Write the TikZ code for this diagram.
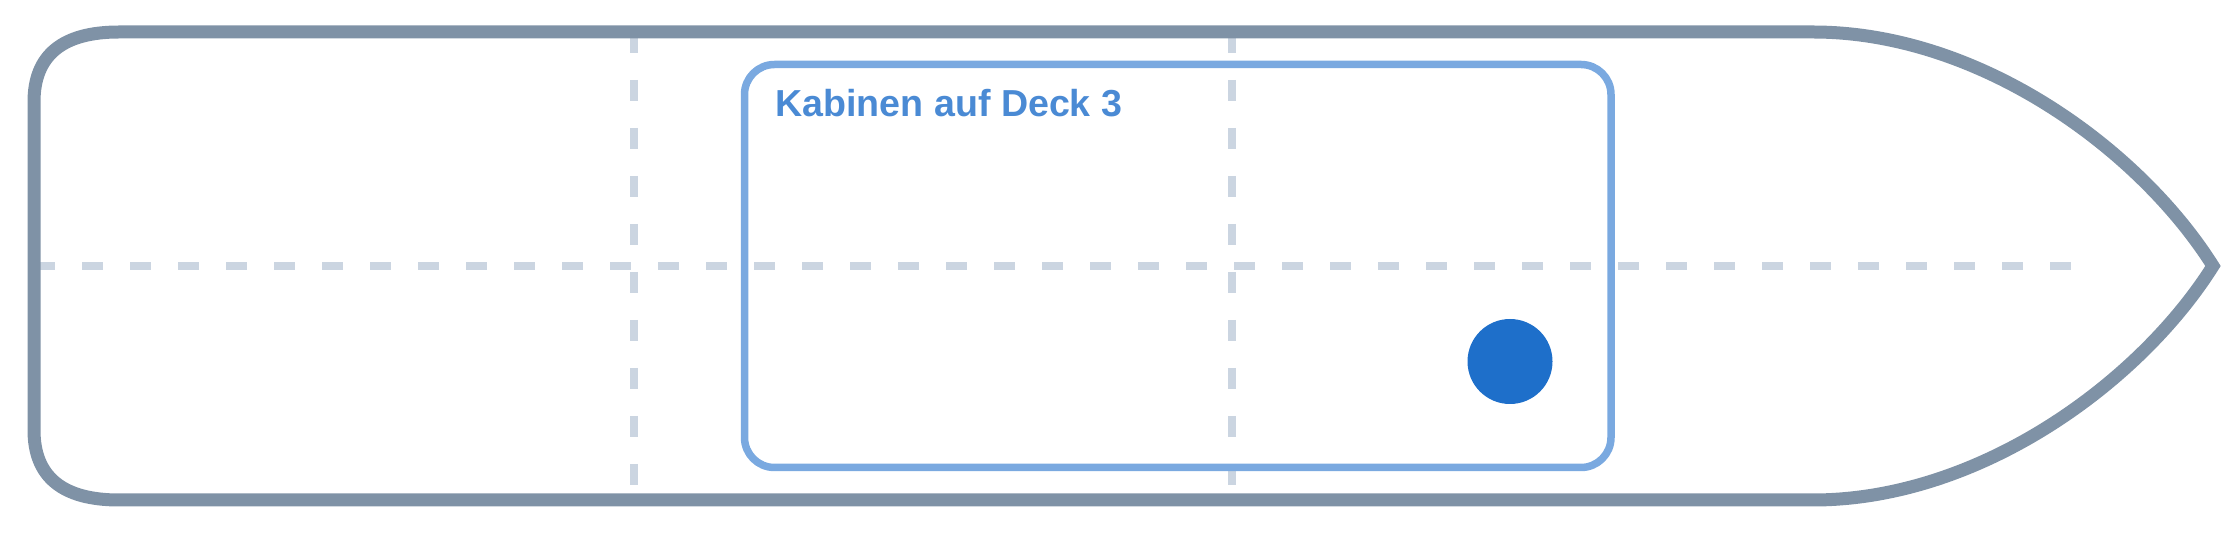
\documentclass[tikz,border=0pt]{standalone}
\usepackage{fontspec}
\setmainfont{Liberation Sans}
\usepackage{tikz}
\usetikzlibrary{calc}
\definecolor{hullgrey}{RGB}{127,146,166}
\definecolor{gridgrey}{RGB}{203,213,225}
\definecolor{cabinblue}{RGB}{122,169,224}
\definecolor{labelblue}{RGB}{74,138,212}
\definecolor{spotblue}{RGB}{30,111,202}

\begin{document}
\begin{tikzpicture}[x=0.5pt, y=-0.5pt,
    hull/.style={line width=6.5pt, hullgrey, line join=miter},
    gridline/.style={line width=4pt, gridgrey, dash pattern=on 10.5pt off 13.5pt},
    cabinbox/.style={line width=3.75pt, cabinblue, rounded corners=15pt}]
	\useasboundingbox (0,0) rectangle (2240,533);

	\def\hulltop{32}
	\def\hullbot{500}
	\def\hullmid{266}

	% raster
	\draw[gridline] (34,\hullmid) -- (2071,\hullmid);
	\draw[gridline] (634,\hulltop) -- (634,\hullbot);
	\draw[gridline] (1232,\hulltop) -- (1232,\hullbot);

	% rumpf
	\coordinate (stern top) at (119,\hulltop);
	\coordinate (bow top) at (1813,\hulltop);
	\coordinate (tip) at (2213,\hullmid);
	\coordinate (bow bot) at (1813,\hullbot);
	\coordinate (stern bot) at (119,\hullbot);
	\draw[hull] (stern top) -- (bow top)
		.. controls (1980,\hulltop) and (2140,150) .. (tip)
		.. controls (2140,382) and (1980,\hullbot) .. (bow bot)
		-- (stern bot)
		.. controls (62.3,\hullbot) and (34,476.7) .. (34,430)
		-- (34,102)
		.. controls (34,55.3) and (62.3,\hulltop) .. (stern top) -- cycle;

	% kabinen
	\draw[cabinbox] (744.5,64.5) rectangle (1611,467.5);
	\node[anchor=base west, inner sep=0pt, text=labelblue,
		font=\fontsize{18.8}{22}\selectfont\bfseries] (title) at (775,117) {Kabinen auf Deck 3};

	\coordinate (spot) at (1510,361.5);
	\fill[spotblue] (spot) circle (21.25pt);
\end{tikzpicture}
\end{document}
